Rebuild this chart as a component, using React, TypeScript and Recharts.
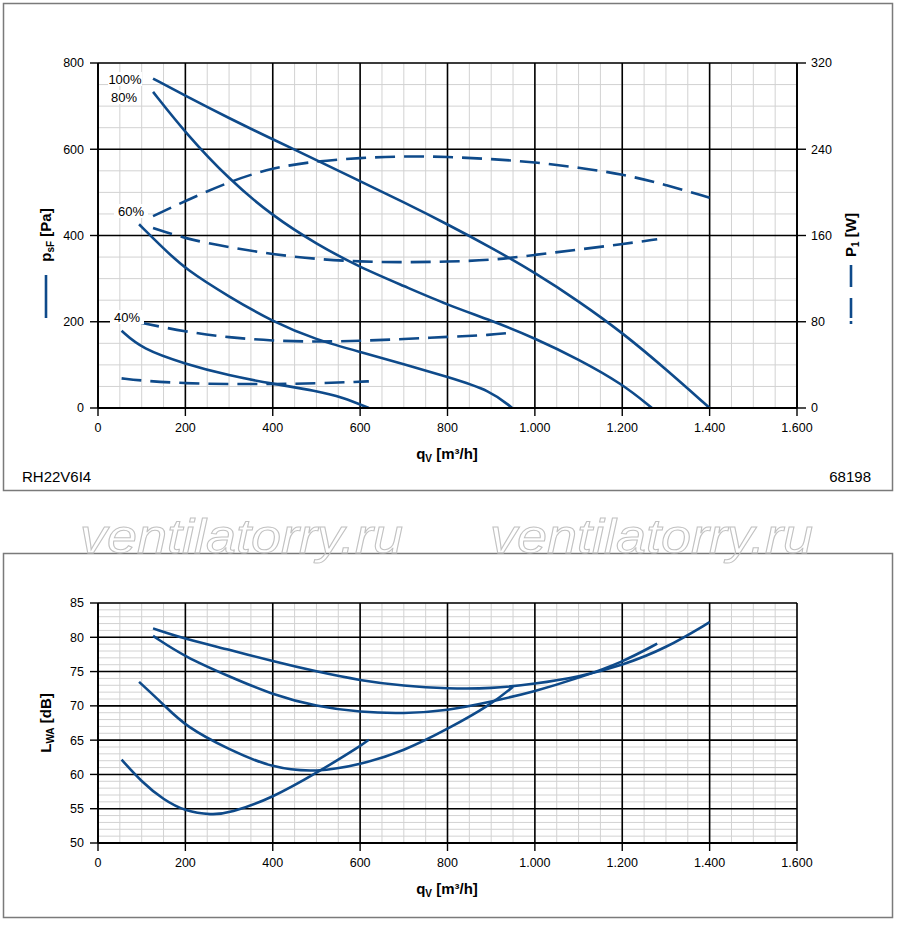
import React from 'react';
import { LineChart, Line, XAxis, YAxis, ReferenceLine } from 'recharts';

const BLUE = '#0e4a8a';
const FONT = '"Liberation Sans", Arial, Helvetica, sans-serif';

// axis ticks
const flowTicks = [0, 200, 400, 600, 800, 1000, 1200, 1400, 1600];
const pressureTicks = [0, 200, 400, 600, 800];
const powerTicks = [0, 80, 160, 240, 320];
const levelTicks = [50, 55, 60, 65, 70, 75, 80, 85];

// static pressure psF [Pa]
const qP100 = [126, 200, 300, 400, 500, 600, 700, 800, 900, 1000, 1100, 1200, 1300, 1400];
const psf100 = [764, 724, 672, 623, 575, 526, 477, 426, 372, 314, 248, 175, 90, 0];
const qP80 = [126, 200, 300, 400, 500, 600, 700, 800, 900, 1000, 1100, 1200, 1268];
const psf80 = [733, 638, 530, 445, 380, 326, 283, 239, 203, 162, 113, 56, 0];
const qP60 = [94, 150, 200, 300, 400, 500, 600, 700, 800, 900, 948];
const psf60 = [426, 370, 322, 258, 200, 158, 130, 102, 72, 40, 0];
const qP40 = [54, 100, 200, 300, 400, 500, 560, 620];
const psf40 = [179, 137, 102, 75, 56, 40, 25, 0];

// input power P1 [W]
const qW100 = [126, 200, 300, 400, 500, 600, 700, 800, 900, 1000, 1100, 1200, 1300, 1400];
const pw100 = [178, 192, 210, 223, 229, 232, 233.6, 233, 231, 228, 223, 217, 207, 195];
const qW80 = [126, 200, 300, 400, 500, 600, 700, 800, 900, 1000, 1100, 1200, 1280];
const pw80 = [167, 157, 149, 142.6, 138, 135.8, 135, 135.8, 137, 142, 147, 152, 156.5];
const qW60 = [95, 200, 300, 400, 500, 600, 700, 800, 900, 950];
const pw60 = [79.3, 70.7, 65.4, 62.3, 61.4, 62.3, 63.9, 66, 67.8, 70];
const qW40 = [54, 100, 200, 300, 400, 500, 600, 620];
const pw40 = [27.5, 25.3, 22.8, 22.2, 22.2, 22.8, 24.4, 24.7];

// sound power LWA [dB]
const qL100 = [126, 200, 300, 400, 500, 600, 700, 800, 900, 1000, 1100, 1200, 1300, 1400];
const lwa100 = [81.3, 79.75, 78.2, 76.5, 75.0, 73.7, 72.9, 72.5, 72.5, 73.2, 74.2, 75.9, 78.4, 82.2];
const qL80 = [126, 200, 300, 400, 500, 600, 700, 800, 900, 1000, 1100, 1200, 1280];
const lwa80 = [80.2, 77.1, 74.3, 71.6, 69.9, 69.06, 68.86, 69.3, 70.6, 72.1, 74.06, 76.35, 79.07];
const qL60 = [94, 150, 200, 300, 400, 500, 600, 700, 800, 900, 950];
const lwa60 = [73.5, 70.2, 67.0, 63.6, 60.9, 60.3, 61.4, 63.4, 66.6, 70.2, 72.8];
const qL40 = [54, 100, 150, 200, 260, 300, 400, 500, 600, 620];
const lwa40 = [62.15, 58.9, 56.3, 54.6, 54.1, 54.3, 56.6, 60.2, 64.1, 65.07];

const pts = (xs: number[], ys: number[]) => xs.map((q, i) => ({ q, v: ys[i] }));
const steps = (from: number, to: number, step: number) =>
  Array.from({ length: Math.round((to - from) / step) + 1 }, (_, i) => from + i * step);

const fmtFlow = (v: number) =>
  v >= 1000 ? `${Math.floor(v / 1000)}.${String(v % 1000).padStart(3, '0')}` : String(v);

const tickStyle = { fill: '#000', fontSize: 12.5, fontFamily: FONT };
const tickLineStyle = { stroke: '#000', strokeWidth: 1.4 };
const axisLineStyle = { stroke: '#000', strokeWidth: 1.8 };

const MINOR = '#d2d2d2';

// background grid: light every 50 / 1 dB, black at the labelled ticks
const grid = (vMinor: number[], hMinor: number[], vMajor: number[], hMajor: number[]) => [
  ...vMinor.map((v) => (
    <ReferenceLine key={`vm${v}`} x={v} yAxisId="left" stroke={MINOR} strokeWidth={1} zIndex={-100} />
  )),
  ...hMinor.map((v) => (
    <ReferenceLine key={`hm${v}`} y={v} yAxisId="left" stroke={MINOR} strokeWidth={1} zIndex={-100} />
  )),
  ...vMajor.map((v) => (
    <ReferenceLine key={`vM${v}`} x={v} yAxisId="left" stroke="#000" strokeWidth={1.6} zIndex={-90} />
  )),
  ...hMajor.map((v) => (
    <ReferenceLine key={`hM${v}`} y={v} yAxisId="left" stroke="#000" strokeWidth={1.6} zIndex={-90} />
  )),
];

const solid = (data: { q: number; v: number }[], key: string, axis = 'left') => (
  <Line
    key={key}
    data={data}
    dataKey="v"
    yAxisId={axis}
    type="basis"
    stroke={BLUE}
    strokeWidth={2.6}
    dot={false}
    isAnimationActive={false}
  />
);

const dashed = (data: { q: number; v: number }[], key: string) => (
  <Line
    key={key}
    data={data}
    dataKey="v"
    yAxisId="right"
    type="basis"
    stroke={BLUE}
    strokeWidth={2.6}
    strokeDasharray="20 9"
    dot={false}
    isAnimationActive={false}
  />
);

const PctLabel = ({ x, y, text }: { x: number; y: number; text: string }) => (
  <g>
    <rect x={x - 17} y={y - 7} width={34} height={14} fill="#fff" />
    <text x={x} y={y + 4.5} textAnchor="middle" fontSize={13} fontFamily={FONT}>
      {text}
    </text>
  </g>
);

const Watermark = ({ x }: { x: number }) => (
  <text
    x={x}
    y={553}
    fontSize={48}
    fontStyle="italic"
    fontFamily={FONT}
    textLength={323}
    lengthAdjust="spacingAndGlyphs"
    fill="none"
    stroke="#c2c2c2"
    strokeWidth={1}
  >
    ventilatorry.ru
  </text>
);

export default function App() {
  return (
    <div style={{ position: 'relative', width: 900, height: 925, background: '#fff', fontFamily: FONT }}>
      <style>{'body{margin:0}'}</style>

      <div style={{ position: 'absolute', left: 0, top: 0 }}>
        <LineChart width={900} height={492} margin={{ top: 63, right: 0, bottom: 54, left: 0 }}>
          <XAxis
            dataKey="q"
            type="number"
            domain={[0, 1600]}
            ticks={flowTicks}
            tickFormatter={fmtFlow}
            height={30}
            tick={tickStyle}
            tickLine={tickLineStyle}
            axisLine={axisLineStyle}
            tickSize={8}
            tickMargin={7}
            allowDataOverflow
          />
          <YAxis
            yAxisId="left"
            domain={[0, 800]}
            ticks={pressureTicks}
            width={98}
            tick={tickStyle}
            tickLine={tickLineStyle}
            axisLine={axisLineStyle}
            tickSize={8}
            tickMargin={6}
            allowDataOverflow
          />
          <YAxis
            yAxisId="right"
            orientation="right"
            domain={[0, 320]}
            ticks={powerTicks}
            width={103}
            tick={tickStyle}
            tickLine={tickLineStyle}
            axisLine={axisLineStyle}
            tickSize={9}
            tickMargin={5}
            allowDataOverflow
          />
          {grid(steps(0, 1600, 50), steps(0, 800, 50), flowTicks, pressureTicks)}
          {dashed(pts(qW100, pw100), 'w100')}
          {dashed(pts(qW80, pw80), 'w80')}
          {dashed(pts(qW60, pw60), 'w60')}
          {dashed(pts(qW40, pw40), 'w40')}
          {solid(pts(qP100, psf100), 'p100')}
          {solid(pts(qP80, psf80), 'p80')}
          {solid(pts(qP60, psf60), 'p60')}
          {solid(pts(qP40, psf40), 'p40')}
        </LineChart>
      </div>

      <div style={{ position: 'absolute', left: 0, top: 554 }}>
        <LineChart width={900} height={364} margin={{ top: 49, right: 103, bottom: 45, left: 0 }}>
          <XAxis
            dataKey="q"
            type="number"
            domain={[0, 1600]}
            ticks={flowTicks}
            tickFormatter={fmtFlow}
            height={30}
            tick={tickStyle}
            tickLine={tickLineStyle}
            axisLine={axisLineStyle}
            tickSize={8}
            tickMargin={7}
            allowDataOverflow
          />
          <YAxis
            yAxisId="left"
            domain={[50, 85]}
            ticks={levelTicks}
            width={98}
            tick={tickStyle}
            tickLine={tickLineStyle}
            axisLine={axisLineStyle}
            tickSize={8}
            tickMargin={6}
            allowDataOverflow
          />
          {grid(steps(0, 1600, 50), steps(50, 85, 1), flowTicks, levelTicks)}
          {solid(pts(qL100, lwa100), 'l100')}
          {solid(pts(qL80, lwa80), 'l80')}
          {solid(pts(qL60, lwa60), 'l60')}
          {solid(pts(qL40, lwa40), 'l40')}
        </LineChart>
      </div>

      <svg
        width={900}
        height={925}
        style={{ position: 'absolute', left: 0, top: 0, pointerEvents: 'none' }}
      >
        {/* panel frames */}
        <rect x={3.5} y={3.5} width={889} height={487} fill="none" stroke="#7a7a7a" strokeWidth={1.5} />
        <rect x={3.5} y={553.5} width={889} height={364} fill="none" stroke="#7a7a7a" strokeWidth={1.5} />

        {/* speed labels */}
        <PctLabel x={125} y={79} text="100%" />
        <PctLabel x={124} y={97} text="80%" />
        <PctLabel x={131} y={211} text="60%" />
        <PctLabel x={127} y={317} text="40%" />

        {/* left axis title + solid legend */}
        <text transform="translate(51,235) rotate(-90)" textAnchor="middle" fontSize={15} fontWeight="bold" fontFamily={FONT}>
          p<tspan fontSize={10} dy={3}>sF</tspan>
          <tspan dy={-3}> [Pa]</tspan>
        </text>
        <line x1={46} y1={275} x2={46} y2={318} stroke={BLUE} strokeWidth={2.6} />

        {/* right axis title + dashed legend */}
        <text transform="translate(856,235) rotate(-90)" textAnchor="middle" fontSize={15} fontWeight="bold" fontFamily={FONT}>
          P<tspan fontSize={10} dy={3}>1</tspan>
          <tspan dy={-3}> [W]</tspan>
        </text>
        <line x1={851} y1={265} x2={851} y2={287} stroke={BLUE} strokeWidth={2.6} />
        <line x1={851} y1={298} x2={851} y2={318} stroke={BLUE} strokeWidth={2.6} />
        <line x1={851} y1={321} x2={851} y2={324} stroke={BLUE} strokeWidth={2.6} />

        {/* x axis titles */}
        <text x={447} y={459} textAnchor="middle" fontSize={15} fontWeight="bold" fontFamily={FONT}>
          q<tspan fontSize={10} dy={3}>V</tspan>
          <tspan dy={-3}> [m³/h]</tspan>
        </text>
        <text x={447} y={894} textAnchor="middle" fontSize={15} fontWeight="bold" fontFamily={FONT}>
          q<tspan fontSize={10} dy={3}>V</tspan>
          <tspan dy={-3}> [m³/h]</tspan>
        </text>

        {/* bottom left axis title */}
        <text transform="translate(51,723) rotate(-90)" textAnchor="middle" fontSize={15} fontWeight="bold" fontFamily={FONT}>
          L<tspan fontSize={10} dy={3}>WA</tspan>
          <tspan dy={-3}> [dB]</tspan>
        </text>

        {/* footer */}
        <text x={22} y={482} fontSize={15} fontFamily={FONT}>RH22V6I4</text>
        <text x={871} y={482} textAnchor="end" fontSize={15} fontFamily={FONT}>68198</text>

        <Watermark x={80} />
        <Watermark x={490} />
      </svg>
    </div>
  );
}
